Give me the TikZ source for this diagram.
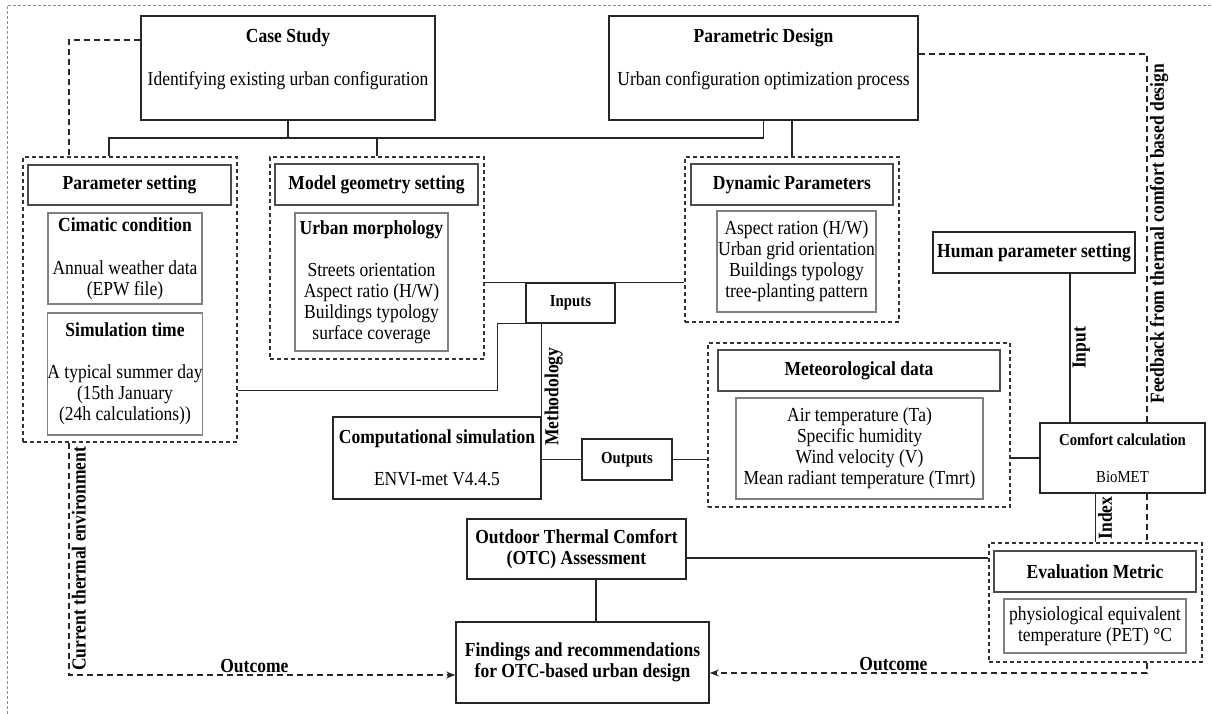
\documentclass[tikz,border=0pt]{standalone}
\usepackage{fontspec}
\setmainfont{Liberation Serif}[FakeStretch=0.88]
\usepackage{tikz}
\usetikzlibrary{shapes, arrows.meta, positioning, calc}
\newcommand{\bodyfs}{\fontsize{19.9}{21}\selectfont}
\newcommand{\smallfs}{\fontsize{16.8}{18}\selectfont}
\tikzset{
    block/.style={rectangle, draw=black!85, line width=1.6pt, align=center, inner sep=0pt},
    grpbox/.style={rectangle, draw=black!80, line width=1.1pt, dash pattern=on 4pt off 3pt, inner sep=0pt},
    headbox/.style={rectangle, draw=black!70, line width=1.4pt, align=center, inner sep=0pt, font=\bodyfs\bfseries},
    inbox/.style={rectangle, draw=black!50, line width=1.3pt, align=center, inner sep=0pt},
    link/.style={line width=1.3pt, draw=black!85},
    dlink/.style={line width=1.5pt, draw=black!85, dash pattern=on 6pt off 4pt},
    tag/.style={font=\bodyfs\bfseries, inner sep=2pt},
    arrow/.style={-{Stealth[length=9pt, width=7pt]}}
}
\begin{document}
\begin{tikzpicture}[x=1pt, y=-1pt, font=\bodyfs]
    \useasboundingbox (0,0) rectangle (1212,714);
    \draw[black!45, line width=0.8pt, dash pattern=on 3pt off 2pt] (7,714) -- (7,5) -- (1212,5);

    \node[block, minimum width=294, minimum height=104] (cs) at (288,68) {\textbf{Case Study}\\[22pt]Identifying existing urban configuration\\~};
    \node[block, minimum width=309, minimum height=104] (pd) at (763.5,68) {\textbf{Parametric Design}\\[22pt]Urban configuration optimization process\\~};

    \node[grpbox, minimum width=214, minimum height=285] (gparam) at (130,299.5) {};
    \node[headbox, minimum width=203, minimum height=40] (tparam) at (129.5,185) {Parameter setting};
    \node[inbox, minimum width=154, minimum height=91] (clim) at (125,258.5) {\textbf{Cimatic condition}\\[22pt]Annual weather data\\(EPW file)};
    \node[inbox, minimum width=154, minimum height=122] (simt) at (125,374) {\textbf{Simulation time}\\[21pt]A typical summer day\\(15th January\\(24h calculations))};

    \node[grpbox, minimum width=214, minimum height=202] (gmodel) at (377,258) {};
    \node[headbox, minimum width=203, minimum height=41] (tmodel) at (376.5,184.5) {Model geometry setting};
    \node[inbox, minimum width=153, minimum height=138] (morph) at (371.5,282) {\textbf{Urban morphology}\\[21pt]Streets orientation\\Aspect ratio (H/W)\\Buildings typology\\surface coverage};

    \node[grpbox, minimum width=214, minimum height=165] (gdyn) at (792,239.5) {};
    \node[headbox, minimum width=202, minimum height=41] (tdyn) at (792,184.5) {Dynamic Parameters};
    \node[inbox, minimum width=159, minimum height=101] (dynin) at (796.5,261.5) {Aspect ration (H/W)\\Urban grid orientation\\Buildings typology\\tree-planting pattern};

    \node[block, minimum width=89, minimum height=40, font=\smallfs\bfseries] (inputs) at (570.5,303) {Inputs};
    \node[block, minimum width=202, minimum height=41, font=\bodyfs\bfseries] (human) at (1034,252.5) {Human parameter setting};

    \node[grpbox, minimum width=302, minimum height=164] (gmet) at (859,425) {};
    \node[headbox, minimum width=282, minimum height=41] (tmet) at (859,370.5) {Meteorological data};
    \node[inbox, minimum width=247, minimum height=101] (metin) at (859.5,448.5) {Air temperature (Ta)\\Specific humidity\\Wind velocity (V)\\Mean radiant temperature (Tmrt)};

    \node[block, minimum width=208, minimum height=82] (cmp) at (437,458) {\textbf{Computational simulation}\\[21pt]ENVI-met V4.4.5};
    \node[block, minimum width=90, minimum height=41, font=\smallfs\bfseries] (outputs) at (627,459.5) {Outputs};
    \node[block, minimum width=165, minimum height=70, font=\smallfs] (comfort) at (1122.5,458) {\textbf{Comfort calculation}\\[19pt]BioMET};

    \node[block, minimum width=219, minimum height=60, font=\bodyfs\bfseries] (otc) at (576.5,549) {Outdoor Thermal Comfort\\(OTC) Assessment};
    \node[block, minimum width=253, minimum height=81, font=\bodyfs\bfseries] (findings) at (582.5,662.5) {Findings and recommendations\\for OTC-based urban design};

    \node[grpbox, minimum width=213, minimum height=119] (geval) at (1095.5,602.5) {};
    \node[headbox, minimum width=202, minimum height=41] (teval) at (1095,571.5) {Evaluation Metric};
    \node[inbox, minimum width=182, minimum height=54] (evalin) at (1095,626) {physiological equivalent\\temperature (PET) °C};

    \coordinate (bus) at (0,138);
    \draw[link] (cs.south) -- (cs.south |- bus);
    \draw[link] ([xshift=-21pt]gparam.north) |- (pd.south |- bus) -- (pd.south);
    \draw[link] (gmodel.north) -- (gmodel.north |- bus);
    \draw[link] (gdyn.north) -- (gdyn.north |- pd.south);
    \draw[link] (gmodel.east |- inputs.north) -- (gdyn.west |- inputs.north);
    \draw[link] ([yshift=-91pt]gparam.east) -| ([xshift=-28pt]inputs.south west) -- (inputs.south west);
    \draw[link] (inputs.south -| cmp.north east) -- node[tag, pos=0.79, rotate=90, anchor=north] {Methodology} (cmp.north east);
    \draw[link] (outputs.west -| cmp.east) -- (outputs.west);
    \draw[link] (outputs.east) -- (outputs.east -| gmet.west);
    \draw[link] (comfort.west -| gmet.east) -- (comfort.west);
    \draw[link] ([xshift=36pt]human.south) -- node[tag, rotate=90, anchor=north] {Input} ([xshift=36pt]human.south |- comfort.north);
    \draw[link] (geval.north) -- node[tag, rotate=90, anchor=north] {Index} (geval.north |- comfort.south);
    \draw[link] ([yshift=-9pt]otc.east) -- ([yshift=-9pt]otc.east -| geval.west);
    \draw[link] ([xshift=19.5pt]otc.south) -- ([xshift=19.5pt]otc.south |- findings.north);

    \draw[dlink] ([yshift=28pt]cs.west) -| ([xshift=-61pt]gparam.north);
    \draw[dlink, arrow] ([xshift=-61pt]gparam.south) |- node[tag, pos=0.25, rotate=90, anchor=north] {Current thermal environment} node[tag, pos=0.74, above] {Outcome} ([yshift=-12.5pt]findings.west);
    \draw[dlink] ([yshift=14pt]pd.east) -| node[tag, pos=0.744, rotate=90, anchor=north] {Feedback from thermal comfort based design} ([xshift=24.5pt]comfort.north);
    \draw[dlink] ([xshift=24.5pt]comfort.south) -- ([xshift=24.5pt]comfort.south |- geval.north);
    \draw[dlink, arrow] ([xshift=51.5pt]geval.south) |- node[tag, pos=0.79, above] {Outcome} ([yshift=-10.5pt]findings.east);
\end{tikzpicture}
\end{document}
